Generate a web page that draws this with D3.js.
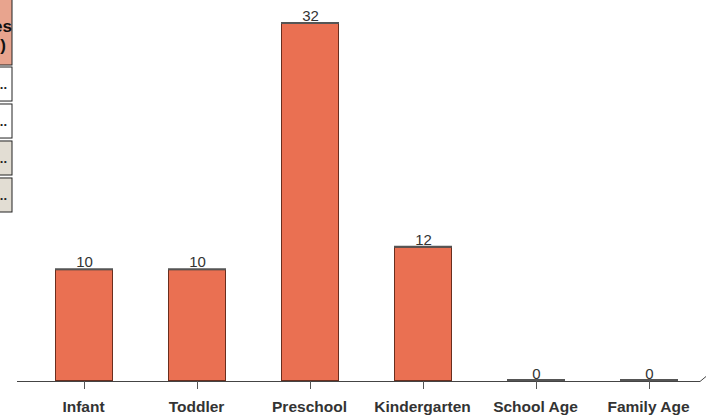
<!DOCTYPE html>
<html>
<head>
<meta charset="utf-8">
<script src="https://cdn.jsdelivr.net/npm/d3@7"></script>
<style>
  html, body { margin: 0; padding: 0; background: #fff; }
  #chart { width: 723px; height: 417px; }
</style>
</head>
<body>
<div id="chart"></div>
<script>
document.addEventListener('DOMContentLoaded', function() {
    const width = 723;
    const height = 417;

    // data
    const categories = ["Infant", "Toddler", "Preschool", "Kindergarten", "School Age", "Family Age"];
    const counts = [10, 10, 32, 12, 0, 0];
    // rows of the cut-off table on the left
    const tableRows = ["...", "...", "...", "..."];
    const rowFills = ["#ffffff", "#ffffff", "#e2ddd3", "#e2ddd3"];

    const svg = d3.select("#chart")
        .append("svg")
        .attr("width", width)
        .attr("height", height);

    const x = d3.scaleBand()
        .domain(categories)
        .range([27, 705])
        .paddingInner(0.5)
        .paddingOuter(0.25);

    const y = d3.scaleLinear()
        .domain([0, 32])
        .range([381, 23]);

    // partial table, mostly off-canvas to the left
    const table = svg.append("g");
    table.append("rect")
        .attr("x", -200).attr("y", -1)
        .attr("width", 212).attr("height", 66)
        .style("fill", "#e8a48e")
        .style("stroke", "#222")
        .style("stroke-width", 1);
    table.append("text")
        .attr("x", 12).attr("y", 32)
        .attr("text-anchor", "end")
        .style("font", "bold 17px 'Liberation Sans', Arial, sans-serif")
        .style("fill", "#111")
        .text("es");
    table.append("text")
        .attr("x", 6).attr("y", 51)
        .attr("text-anchor", "end")
        .style("font", "bold 17px 'Liberation Sans', Arial, sans-serif")
        .style("fill", "#111")
        .text(")");

    const rowY = d3.scaleBand()
        .domain(d3.range(tableRows.length))
        .range([67, 212])
        .paddingInner(0.08);

    table.selectAll(".row")
        .data(tableRows)
        .enter().append("rect")
        .attr("class", "row")
        .attr("x", -200)
        .attr("y", (d, i) => rowY(i))
        .attr("width", 212)
        .attr("height", rowY.bandwidth())
        .style("fill", (d, i) => rowFills[i])
        .style("stroke", "#222")
        .style("stroke-width", 1);

    table.selectAll(".rowtext")
        .data(tableRows)
        .enter().append("text")
        .attr("class", "rowtext")
        .attr("x", 7)
        .attr("y", (d, i) => rowY(i) + rowY.bandwidth() / 2 + 5)
        .attr("text-anchor", "end")
        .style("font", "bold 13px 'Liberation Sans', Arial, sans-serif")
        .style("fill", "#222")
        .text(d => d);

    // baseline with the little slanted end
    svg.append("path")
        .attr("d", `M17,381.5H700L706,376.5`)
        .style("fill", "none")
        .style("stroke", "#444")
        .style("stroke-width", 1);

    svg.selectAll(".tick")
        .data(categories)
        .enter().append("line")
        .attr("class", "tick")
        .attr("x1", d => Math.round(x(d) + x.bandwidth() / 2) + 0.5)
        .attr("x2", d => Math.round(x(d) + x.bandwidth() / 2) + 0.5)
        .attr("y1", 381)
        .attr("y2", 389)
        .style("stroke", "#555")
        .style("stroke-width", 1);

    svg.selectAll(".bar")
        .data(counts)
        .enter().append("rect")
        .attr("class", "bar")
        .attr("x", (d, i) => Math.round(x(categories[i])) + 0.5)
        .attr("y", d => y(d) + 0.5)
        .attr("width", Math.round(x.bandwidth()))
        .attr("height", d => y(0) - y(d) - 1)
        .style("fill", "#ea7052")
        .style("stroke", "#6a2e1e")
        .style("stroke-width", 1);

    // grey cap along each bar top
    svg.selectAll(".cap")
        .data(counts)
        .enter().append("line")
        .attr("class", "cap")
        .attr("x1", (d, i) => Math.round(x(categories[i])))
        .attr("x2", (d, i) => Math.round(x(categories[i])) + Math.round(x.bandwidth()) + 1)
        .attr("y1", d => d === 0 ? y(d) - 1 : y(d))
        .attr("y2", d => d === 0 ? y(d) - 1 : y(d))
        .style("stroke", "#555")
        .style("stroke-width", 2);

    svg.selectAll(".value")
        .data(counts)
        .enter().append("text")
        .attr("class", "value")
        .attr("x", (d, i) => x(categories[i]) + x.bandwidth() / 2 + 1)
        .attr("y", d => y(d) - 2)
        .attr("text-anchor", "middle")
        .style("font", "15px 'Liberation Sans', Arial, sans-serif")
        .style("fill", "#333")
        .text(d => d);

    svg.selectAll(".label")
        .data(categories)
        .enter().append("text")
        .attr("class", "label")
        .attr("x", d => x(d) + x.bandwidth() / 2)
        .attr("y", 412)
        .attr("text-anchor", "middle")
        .style("font", "bold 15.5px 'Liberation Sans', Arial, sans-serif")
        .style("fill", "#333")
        .text(d => d);
});
</script>
</body>
</html>
